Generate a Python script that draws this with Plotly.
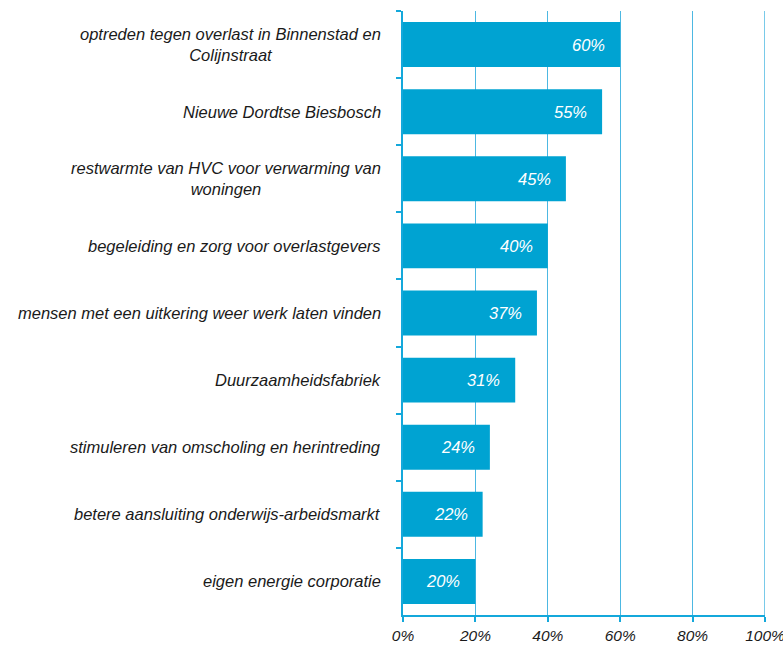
import plotly.graph_objects as go

categories = [
    "optreden tegen overlast in Binnenstad en<br>Colijnstraat",
    "Nieuwe Dordtse Biesbosch",
    "restwarmte van HVC voor verwarming van<br>woningen",
    "begeleiding en zorg voor overlastgevers",
    "mensen met een uitkering weer werk laten vinden",
    "Duurzaamheidsfabriek",
    "stimuleren van omscholing en herintreding",
    "betere aansluiting onderwijs-arbeidsmarkt",
    "eigen energie corporatie",
]
values = [60, 55, 45, 40, 37, 31, 24, 22, 20]
x_ticks = [0, 20, 40, 60, 80, 100]
x_tick_labels = ["0%", "20%", "40%", "60%", "80%", "100%"]

BAR = "#00A3D2"
AXIS = "#14A8DB"
GRID = "#4DB8E2"
FONT = "Liberation Sans, Arial, sans-serif"
FS = 16.5

fig = go.Figure(go.Bar(
    x=values, y=categories, orientation="h",
    marker=dict(color=BAR, line=dict(width=0)),
    hoverinfo="skip",
))

for c, v in zip(categories, values):
    fig.add_annotation(
        x=v, y=c, xref="x", yref="y", text=f"<i>{v}%</i>",
        showarrow=False, xanchor="right", xshift=-13,
        font=dict(family=FONT, size=FS, color="white"),
    )
    fig.add_annotation(
        x=0, y=c, xref="paper", yref="y", text=f"<i>{c}</i>",
        showarrow=False, xanchor="right", xshift=-20, align="center",
        font=dict(family=FONT, size=FS, color="#1a1a1a"),
    )

# gridline at the right end of the value axis
fig.add_shape(type="line", xref="x", yref="paper",
              x0=x_ticks[-1], x1=x_ticks[-1], y0=0, y1=1,
              line=dict(color=GRID, width=1.5), layer="below")

fig.update_layout(
    width=783, height=649,
    margin=dict(l=403, r=18, t=11, b=34, autoexpand=False),
    plot_bgcolor="white", paper_bgcolor="white",
    bargap=0.33,
    showlegend=False,
    font=dict(family=FONT, size=FS, color="#1a1a1a"),
)
fig.update_xaxes(
    range=[0, 100], tickvals=x_ticks,
    ticktext=[f"<i>{t}</i>" for t in x_tick_labels],
    showgrid=True, gridcolor=GRID, gridwidth=1,
    showline=True, linecolor=AXIS, linewidth=2,
    ticks="outside", ticklen=5, tickcolor=AXIS, tickwidth=2,
    tickfont=dict(family=FONT, size=15.5, color="#1a1a1a"),
    ticklabeloverflow="allow", automargin=False,
    zeroline=False, fixedrange=True,
)
fig.update_yaxes(
    autorange="reversed", type="category",
    showticklabels=False, automargin=False,
    showline=True, linecolor=AXIS, linewidth=2,
    ticks="outside", tickson="boundaries", ticklen=5,
    tickcolor=AXIS, tickwidth=2,
    showgrid=False, zeroline=False, fixedrange=True,
)

fig.write_html(
    "out.html",
    config={"displayModeBar": False, "staticPlot": True},
    post_script="document.body.style.margin='0px';"
                "document.documentElement.style.overflow='hidden';",
)
